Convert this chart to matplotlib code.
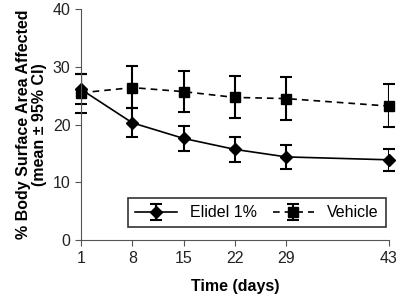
import numpy as np
from matplotlib import pyplot as plt

plt.rcParams['font.family'] = ['Liberation Sans', 'DejaVu Sans']

days = [1, 8, 15, 22, 29, 43]
elidel = [26.1, 20.3, 17.6, 15.7, 14.4, 13.9]
elidel_lo = [23.5, 17.9, 15.4, 13.6, 12.3, 12.0]
elidel_hi = [28.8, 22.8, 19.8, 17.8, 16.4, 15.7]
vehicle = [25.5, 26.4, 25.7, 24.7, 24.5, 23.2]
vehicle_lo = [22.0, 22.8, 22.2, 21.1, 20.8, 19.6]
vehicle_hi = [28.8, 30.1, 29.3, 28.4, 28.2, 27.0]

e = np.array(elidel)
v = np.array(vehicle)
e_err = [e - np.array(elidel_lo), np.array(elidel_hi) - e]
v_err = [v - np.array(vehicle_lo), np.array(vehicle_hi) - v]

fig = plt.figure(figsize=(4, 3.02), dpi=100)
ax = fig.add_axes((0.2025, 0.205, 0.77, 0.765))

ax.errorbar(days, vehicle, yerr=v_err, fmt='s', ls=(0, (4, 3)), color='black',
            ms=7.5, lw=1.2, capsize=4, elinewidth=1.5, capthick=1.5, label='Vehicle')
ax.errorbar(days, elidel, yerr=e_err, fmt='D', ls='-', color='black',
            ms=6.5, lw=1.2, capsize=4, elinewidth=1.5, capthick=1.5, label='Elidel 1%')

ax.set_xlim(1, 43)
ax.set_ylim(0, 40)
ax.set_xticks(days)
ax.set_yticks([0, 10, 20, 30, 40])
ax.spines['top'].set_visible(False)
ax.spines['right'].set_visible(False)
ax.tick_params(direction='out', length=4, labelsize=11.5, color='#555555',
               labelcolor='#222222')
for s in ['left', 'bottom']:
    ax.spines[s].set_color('#555555')
for p in ax.lines:
    p.set_clip_on(False)

ax.set_xlabel('Time (days)', fontsize=11.5, fontweight='bold', labelpad=10)
ax.set_ylabel('% Body Surface Area Affected\n(mean ± 95% CI)', fontsize=11.5,
              fontweight='bold', labelpad=4, linespacing=1.1)

h, l = ax.get_legend_handles_labels()
leg = ax.legend(h[::-1], l[::-1], ncol=2, loc='lower right', bbox_to_anchor=(1.015, 0.02),
                frameon=True, fancybox=False, edgecolor='black', fontsize=11.5,
                handlelength=2.6, columnspacing=1.0, borderpad=0.45, handletextpad=0.8)
leg.get_frame().set_linewidth(1.2)

plt.savefig('out.png')
